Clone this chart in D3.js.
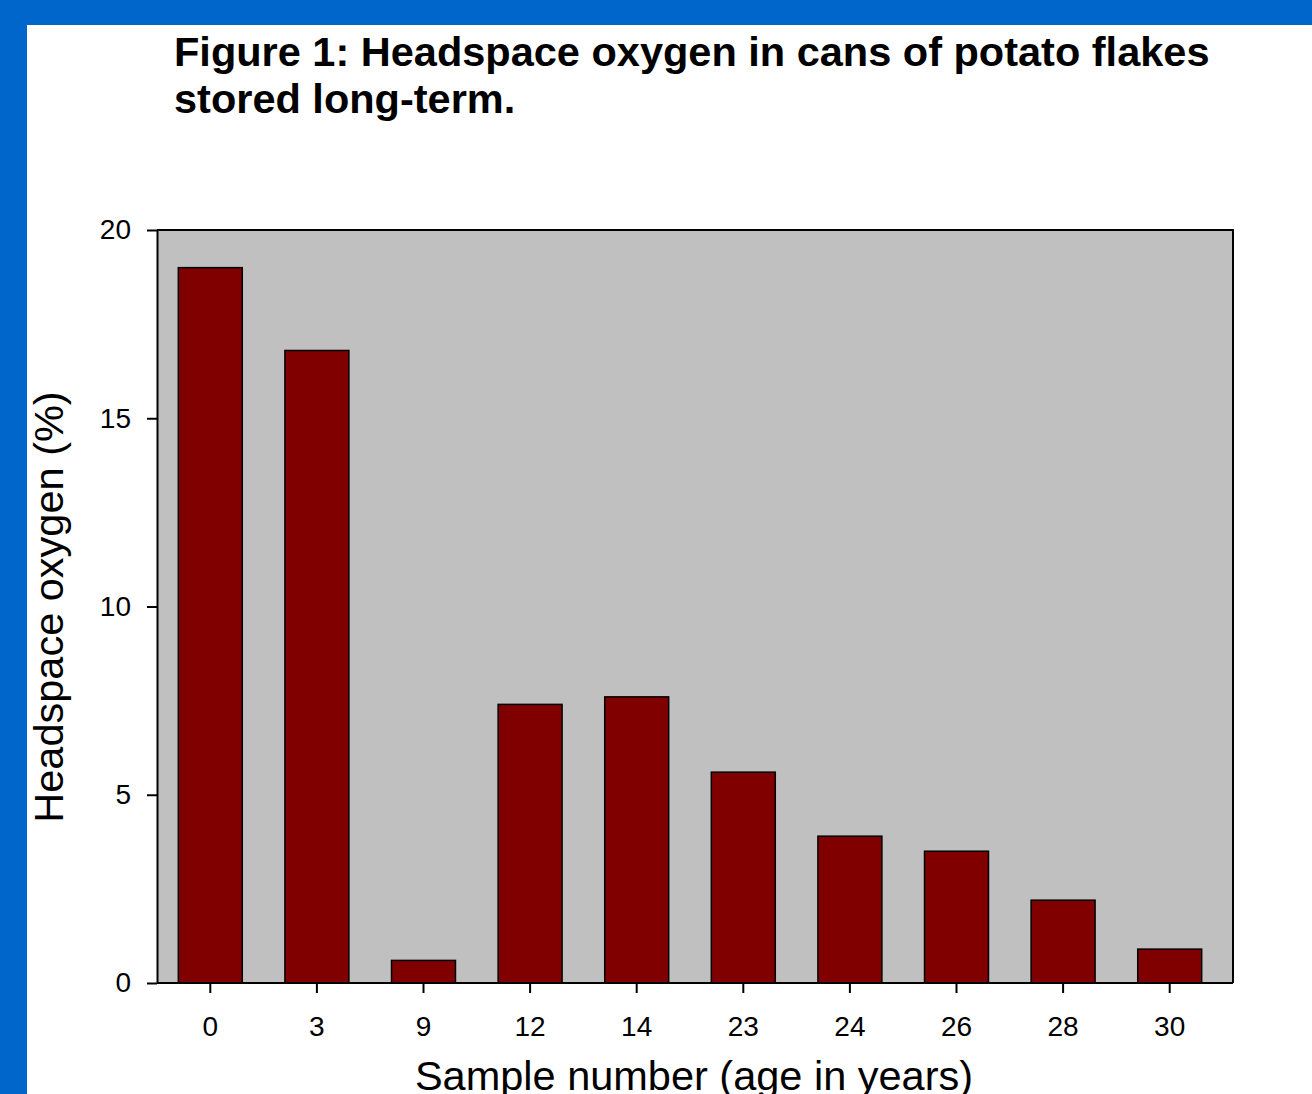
<!DOCTYPE html>
<html>
<head>
<meta charset="utf-8">
<script src="https://cdn.jsdelivr.net/npm/d3@7"></script>
<style>
  html, body { margin: 0; padding: 0; background: #ffffff; }
  svg { display: block; }
</style>
</head>
<body>
<svg id="chart" width="1312" height="1094"></svg>
<script>
// Headspace oxygen measured in stored cans, by sample age
const sampleAges = ["0", "3", "9", "12", "14", "23", "24", "26", "28", "30"];
const oxygenPct = [19.0, 16.8, 0.6, 7.4, 7.6, 5.6, 3.9, 3.5, 2.2, 0.9];
const yTicks = [0, 5, 10, 15, 20];
const titleLines = ["Figure 1: Headspace oxygen in cans of potato flakes", "stored long-term."];

const svg = d3.select("#chart");
const W = 1312, H = 1094;
const font = "'Liberation Sans', Arial, Helvetica, sans-serif";

// page frame: white sheet with blue edge along top and left
svg.append("rect").attr("width", W).attr("height", H).attr("fill", "#0066CC");
svg.append("rect").attr("x", 27).attr("y", 25).attr("width", W - 27).attr("height", H - 25).attr("fill", "#ffffff");

// title
svg.append("g").selectAll("text").data(titleLines).join("text")
  .attr("x", 174).attr("y", (d, i) => 66 + i * 47)
  .attr("font-family", font).attr("font-weight", "bold").attr("font-size", 41.5)
  .attr("fill", "#000").text(d => d);

const plot = { left: 157, top: 230, right: 1233, bottom: 983 };

const x = d3.scaleBand().domain(sampleAges).range([plot.left, 1223]).paddingInner(0.4).paddingOuter(0.2);
const y = d3.scaleLinear().domain([0, 20]).range([plot.bottom, plot.top]);

// plot background
svg.append("rect")
  .attr("x", plot.left).attr("y", plot.top)
  .attr("width", plot.right - plot.left).attr("height", plot.bottom - plot.top)
  .attr("fill", "#C0C0C0");

// bars
svg.append("g").selectAll("rect").data(sampleAges).join("rect")
  .attr("x", d => x(d))
  .attr("y", (d, i) => y(oxygenPct[i]))
  .attr("width", x.bandwidth())
  .attr("height", (d, i) => y(0) - y(oxygenPct[i]))
  .attr("fill", "#800000").attr("stroke", "#000").attr("stroke-width", 1.5);

// frame: top and right edges
svg.append("path")
  .attr("d", `M${plot.left},${plot.top}H${plot.right}V${plot.bottom}`)
  .attr("fill", "none").attr("stroke", "#000").attr("stroke-width", 2);

// y axis
const yAxis = svg.append("g").attr("transform", `translate(${plot.left},0)`)
  .call(d3.axisLeft(y).tickValues(yTicks).tickSize(10).tickPadding(16).tickSizeOuter(0));
yAxis.select(".domain").attr("stroke-width", 2);
yAxis.selectAll(".tick line").attr("stroke-width", 2);
yAxis.selectAll("text").attr("font-family", font).attr("font-size", 28).attr("fill", "#000");

// x axis
const xAxis = svg.append("g").attr("transform", `translate(0,${plot.bottom})`)
  .call(d3.axisBottom(x).tickSize(10).tickPadding(23).tickSizeOuter(0));
xAxis.select(".domain").attr("d", `M${plot.left},0H${plot.right}`).attr("stroke-width", 2);
xAxis.selectAll(".tick line").attr("stroke-width", 2);
xAxis.selectAll("text").attr("font-family", font).attr("font-size", 28).attr("fill", "#000");

// axis titles
svg.append("text")
  .attr("transform", `translate(63,607) rotate(-90)`)
  .attr("text-anchor", "middle")
  .attr("font-family", font).attr("font-size", 41.5).attr("fill", "#000")
  .text("Headspace oxygen (%)");

svg.append("text")
  .attr("x", 694).attr("y", 1090)
  .attr("text-anchor", "middle")
  .attr("font-family", font).attr("font-size", 41.5).attr("fill", "#000")
  .text("Sample number (age in years)");
</script>
</body>
</html>
